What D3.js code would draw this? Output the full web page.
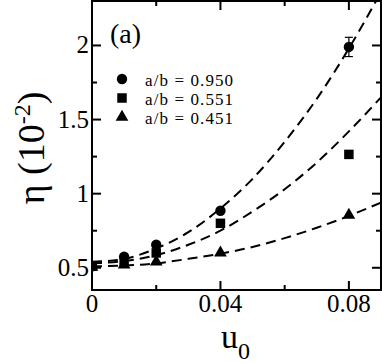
<!DOCTYPE html>
<html><head><meta charset="utf-8">
<script src="https://cdn.jsdelivr.net/npm/d3@7"></script>
<style>body{margin:0;background:#fff}svg{display:block}</style>
</head><body>
<script>
// ---- data ----
const u0 = [0, 0.01, 0.02, 0.04, 0.08];
const eta950 = [0.51, 0.575, 0.655, 0.885, 1.99];
const err950 = [0, 0.01, 0.01, 0.01, 0.065];
const eta551 = [0.51, 0.535, 0.60, 0.80, 1.265];
const eta451 = [0.505, 0.52, 0.54, 0.60, 0.855];
const fitU = [0, 0.01, 0.02, 0.03, 0.04, 0.05, 0.06, 0.07, 0.08, 0.09];
const fit950 = [0.54, 0.56, 0.63, 0.74, 0.90, 1.10, 1.35, 1.64, 1.98, 2.36];
const fit551 = [0.53, 0.545, 0.585, 0.655, 0.75, 0.88, 1.03, 1.21, 1.42, 1.65];
const fit451 = [0.51, 0.515, 0.53, 0.56, 0.595, 0.64, 0.70, 0.77, 0.85, 0.94];
const xTicks = [0, 0.04, 0.08];
const xMinor = [0.02, 0.06];
const yTicks = [0.5, 1, 1.5, 2];
const yMinor = [0.75, 1.25, 1.75];
const legendLabels = ["a/b = 0.950", "a/b = 0.551", "a/b = 0.451"];

const W = 382, H = 363;
const L = 92, R = 381, T = 1, B = 290;
const svg = d3.select("body").append("svg").attr("width", W).attr("height", H);
const x = d3.scaleLinear().domain([0, 0.09]).range([L, R]);
const y = d3.scaleLinear().domain([0.35, 2.3]).range([B, T]);
const serif = "'Liberation Serif', 'Times New Roman', serif";

svg.append("clipPath").attr("id", "clip").append("rect")
  .attr("x", L).attr("y", T).attr("width", R - L).attr("height", B - T);
const plot = svg.append("g").attr("clip-path", "url(#clip)");

// fits
const line = d3.line().x(d => x(d[0])).y(d => y(d[1])).curve(d3.curveMonotoneX);
[fit950, fit551, fit451].forEach(f => {
  plot.append("path")
    .attr("d", line(fitU.map((u, i) => [u, f[i]])))
    .attr("fill", "none").attr("stroke", "#000").attr("stroke-width", 2)
    .attr("stroke-dasharray", "10,6");
});

// error bars
u0.forEach((u, i) => {
  const e = err950[i];
  if (e <= 0) return;
  const g = plot.append("g").attr("stroke", "#000").attr("stroke-width", 1.2);
  g.append("line").attr("x1", x(u)).attr("x2", x(u)).attr("y1", y(eta950[i] - e)).attr("y2", y(eta950[i] + e));
  [eta950[i] - e, eta950[i] + e].forEach(v => g.append("line")
    .attr("x1", x(u) - 4).attr("x2", x(u) + 4).attr("y1", y(v)).attr("y2", y(v)));
});

// markers
const sym = [d3.symbolCircle, d3.symbolSquare, d3.symbolTriangle];
const sizes = [85, 90, 70];
[eta950, eta551, eta451].forEach((s, k) => {
  const p = d3.symbol().type(sym[k]).size(sizes[k]);
  plot.append("g").selectAll("path").data(u0).join("path")
    .attr("transform", (u, i) => `translate(${x(u)},${y(s[i])})`)
    .attr("d", p()).attr("fill", "#000");
});

// axes (inward ticks on all sides)
const ax = svg.append("g").attr("stroke", "#000").attr("stroke-width", 2);
ax.append("rect").attr("x", L).attr("y", T).attr("width", R - L).attr("height", B - T).attr("fill", "none");
xTicks.concat(xMinor).forEach(t => {
  const len = xTicks.includes(t) ? 9 : 5;
  ax.append("line").attr("x1", x(t)).attr("x2", x(t)).attr("y1", B).attr("y2", B - len);
  ax.append("line").attr("x1", x(t)).attr("x2", x(t)).attr("y1", T).attr("y2", T + len);
});
yTicks.concat(yMinor).forEach(t => {
  const len = yTicks.includes(t) ? 9 : 5;
  ax.append("line").attr("y1", y(t)).attr("y2", y(t)).attr("x1", L).attr("x2", L + len);
  ax.append("line").attr("y1", y(t)).attr("y2", y(t)).attr("x1", R).attr("x2", R - len);
});

svg.append("g").selectAll("text").data(xTicks).join("text")
  .attr("x", d => x(d)).attr("y", B + 22).attr("text-anchor", "middle")
  .attr("font-family", serif).attr("font-size", 25).text(d => d3.format("")(d));
svg.append("g").selectAll("text").data(yTicks).join("text")
  .attr("x", L - 3).attr("y", d => y(d) + 8).attr("text-anchor", "end")
  .attr("font-family", serif).attr("font-size", 25).text(d => d);

// axis titles
const xt = svg.append("text").attr("x", 221).attr("y", 348).attr("font-family", serif).attr("font-size", 34);
xt.append("tspan").text("u");
xt.append("tspan").attr("font-size", 24).attr("dy", 11).text("0");

const yt = svg.append("text").attr("transform", "translate(44,148) rotate(-90)")
  .attr("text-anchor", "middle").attr("font-family", serif).attr("font-size", 38);
yt.append("tspan").text("η (10");
yt.append("tspan").attr("font-size", 24).attr("dy", -14).text("-2");
yt.append("tspan").attr("dy", 14).text(")");

// panel label
svg.append("text").attr("x", 110).attr("y", 43).attr("font-family", serif).attr("font-size", 28).text("(a)");

// legend
legendLabels.forEach((lab, k) => {
  const yy = 79 + k * 19;
  svg.append("path").attr("transform", `translate(122,${yy})`)
    .attr("d", d3.symbol().type(sym[k]).size(sizes[k])()).attr("fill", "#000");
  svg.append("text").attr("x", 145).attr("y", yy + 6.5).attr("font-family", serif)
    .attr("font-size", 17).attr("letter-spacing", 1.1).text(lab);
});
</script>
</body></html>
